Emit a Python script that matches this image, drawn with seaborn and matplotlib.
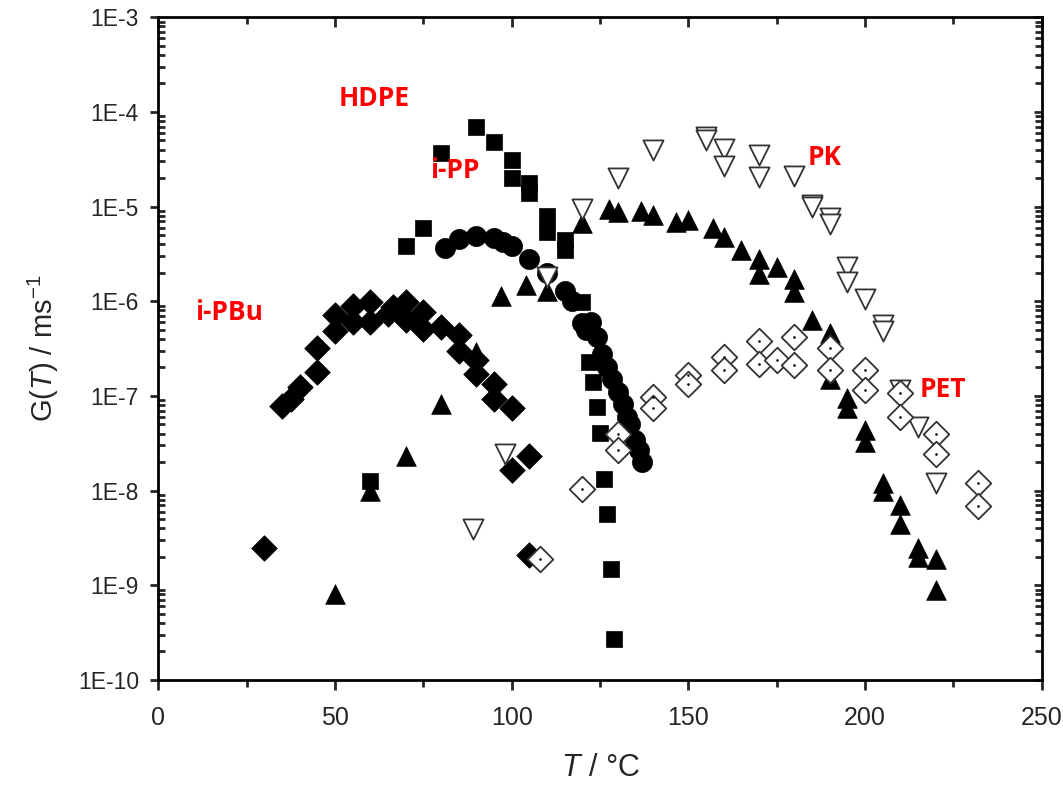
import seaborn as sns
import matplotlib.pyplot as plt
import matplotlib.ticker as mticker
import numpy as np
import pandas as pd

# HDPE (filled squares)
hdpe_T = [60, 70, 75, 80, 90, 95, 100, 100, 105, 105, 110, 110, 115, 115,
          120, 122, 123, 124, 125, 126, 127, 128, 129]
hdpe_G = [1.26e-8, 3.8e-6, 5.9e-6, 3.66e-5, 6.9e-5, 4.8e-5, 3.1e-5, 2.0e-5, 1.78e-5, 1.41e-5,
          7.9e-6, 5.4e-6, 4.4e-6, 3.5e-6, 9.8e-7, 2.3e-7, 1.4e-7, 7.6e-8, 4.1e-8, 1.32e-8,
          5.6e-9, 1.48e-9, 2.7e-10]

# i-PP (filled circles)
ipp_T = [81, 85, 90, 95, 97.5, 100, 105, 110, 115, 117, 120, 121, 122.5, 124,
         125.5, 127, 128.5, 130, 131.5, 132.5, 133.5, 135, 136, 137]
ipp_G = [3.7e-6, 4.6e-6, 4.9e-6, 4.7e-6, 4.2e-6, 3.8e-6, 2.8e-6, 2.0e-6, 1.3e-6, 1.0e-6,
         5.9e-7, 5.0e-7, 6.0e-7, 4.2e-7, 2.8e-7, 2.0e-7, 1.5e-7, 1.1e-7, 8.3e-8, 6.0e-8,
         5.0e-8, 3.4e-8, 2.7e-8, 2.0e-8]

# i-PBu (filled diamonds)
ipbu_T = [30, 35, 37.5, 40, 45, 45, 50, 50, 55, 55, 60, 60, 65, 66.5, 70, 70, 75, 75,
          80, 85, 85, 90, 90, 95, 95, 100, 100, 105, 105]
ipbu_G = [2.45e-9, 7.8e-8, 9.3e-8, 1.23e-7, 1.79e-7, 3.2e-7, 4.9e-7, 7.1e-7, 6.0e-7, 8.9e-7,
          6.0e-7, 9.8e-7, 7.4e-7, 8.7e-7, 9.9e-7, 6.3e-7, 7.8e-7, 5.1e-7,
          5.4e-7, 4.4e-7, 3.0e-7, 2.4e-7, 1.7e-7, 1.35e-7, 9.3e-8, 7.4e-8, 1.66e-8, 2.3e-8, 2.1e-9]

# unlabelled series (filled up triangles)
tri_T = [50, 60, 70, 80, 90, 97, 104, 110, 120, 127.5, 130, 136.5, 140, 146.5, 150, 157,
         160, 165, 170, 170, 175, 180, 180, 185, 190, 190, 195, 195, 200, 200, 205, 205,
         210, 210, 215, 215, 220, 220]
tri_G = [8.1e-10, 9.8e-9, 2.3e-8, 8.3e-8, 2.9e-7, 1.15e-6, 1.5e-6, 1.3e-6, 6.7e-6, 9.5e-6,
         8.8e-6, 9.1e-6, 8.1e-6, 6.9e-6, 7.2e-6, 5.9e-6, 4.8e-6, 3.5e-6, 2.8e-6, 1.96e-6,
         2.3e-6, 1.7e-6, 1.26e-6, 6.3e-7, 4.6e-7, 1.5e-7, 9.5e-8, 7.5e-8, 4.4e-8, 3.3e-8,
         1.2e-8, 1.0e-8, 7.1e-9, 4.4e-9, 2.5e-9, 2.0e-9, 1.9e-9, 8.9e-10]

# PK (open down triangles)
pk_T = [89, 98, 110, 120, 130, 140, 155, 155, 160, 160, 170, 170, 180, 185, 185, 190, 190,
        195, 195, 200, 205, 205, 210, 215, 220]
pk_G = [3.9e-9, 2.45e-8, 1.8e-6, 9.5e-6, 2.0e-5, 4.0e-5, 5.5e-5, 5.1e-5, 4.1e-5, 2.7e-5,
        3.5e-5, 2.05e-5, 2.1e-5, 1.05e-5, 9.8e-6, 7.5e-6, 6.5e-6, 2.3e-6, 1.6e-6, 1.07e-6,
        5.6e-7, 4.8e-7, 1.15e-7, 4.7e-8, 1.2e-8]

# PET (open diamonds)
pet_T = [108, 120, 130, 130, 140, 140, 150, 150, 160, 160, 170, 170, 175, 180, 180, 190, 190,
         200, 200, 210, 210, 220, 220, 232, 232]
pet_G = [1.9e-9, 1.05e-8, 4.0e-8, 2.7e-8, 9.8e-8, 7.4e-8, 1.66e-7, 1.35e-7, 2.6e-7, 1.9e-7,
         3.8e-7, 2.2e-7, 2.4e-7, 4.2e-7, 2.1e-7, 3.2e-7, 1.86e-7, 1.9e-7, 1.15e-7, 1.07e-7,
         6.0e-8, 4.0e-8, 2.45e-8, 1.2e-8, 6.8e-9]

labels = ['HDPE', 'i-PP', 'i-PBu', 'PK', 'PET']
label_T = [61, 84, 20, 188.5, 222]
label_G = [1.4e-4, 2.4e-5, 7.7e-7, 3.3e-5, 1.17e-7]

sns.set_style('ticks')
plt.rcParams['font.family'] = ['Liberation Sans', 'DejaVu Sans']
plt.rcParams['mathtext.fontset'] = 'custom'
plt.rcParams['mathtext.rm'] = 'Liberation Sans'
plt.rcParams['mathtext.it'] = 'Liberation Sans:italic'

fig = plt.figure(figsize=(10.63, 7.87), dpi=100)
ax = fig.add_axes([0.149, 0.136, 0.831, 0.842])

def draw(T, G, marker, size, face, edge, lw, z):
    df = pd.DataFrame({'T': T, 'G': G})
    sns.scatterplot(data=df, x='T', y='G', ax=ax, marker=marker, s=size,
                    color=face, edgecolor=edge, linewidth=lw, zorder=z, legend=False)

draw(hdpe_T, hdpe_G, 's', 120, 'black', 'black', 0.5, 3)
draw(ipp_T, ipp_G, 'o', 210, 'black', 'black', 0.5, 3)
draw(ipbu_T, ipbu_G, 'D', 170, 'black', 'black', 0.5, 3)
draw(tri_T, tri_G, '^', 200, 'black', 'black', 0.5, 3)
draw(pk_T, pk_G, 'v', 210, 'white', '#333333', 1.3, 4)
draw(pet_T, pet_G, 'D', 170, 'white', '#333333', 1.3, 4)
# tiny centre dot of the PET symbols
ax.scatter(pet_T, pet_G, marker='.', s=3, color='black', zorder=5)

for lab, t, g in zip(labels, label_T, label_G):
    ax.text(t, g, lab, color='red', fontsize=19, fontweight='bold',
            family=['Open Sans', 'DejaVu Sans'], ha='center', va='center')

ax.set_yscale('log')
ax.set_xlim(0, 250)
ax.set_ylim(1e-10, 1e-3)

ax.xaxis.set_major_locator(mticker.MultipleLocator(50))
ax.xaxis.set_minor_locator(mticker.MultipleLocator(25))
decades = list(range(-10, -2))
ax.yaxis.set_major_locator(mticker.FixedLocator([10.0 ** k for k in decades]))
ax.yaxis.set_major_formatter(mticker.FixedFormatter(['1E%d' % k for k in decades]))
ax.yaxis.set_minor_locator(mticker.LogLocator(base=10, subs=np.arange(2, 10), numticks=20))
ax.yaxis.set_minor_formatter(mticker.NullFormatter())

for s in ax.spines.values():
    s.set_linewidth(2)
    s.set_color('black')

ax.tick_params(axis='x', which='major', direction='out', length=7, width=2,
               labelsize=18, pad=12, top=True)
ax.tick_params(axis='x', which='minor', direction='out', length=5, width=2, top=True)
ax.tick_params(axis='y', which='major', direction='out', length=6, width=2,
               labelsize=16.5, pad=8, right=True)
ax.tick_params(axis='y', which='minor', direction='in', length=5, width=2, right=True)
# ticks on top/right point into the plot
for t in ax.xaxis.get_major_ticks() + ax.xaxis.get_minor_ticks():
    t.tick2line.set_marker(3)
for t in ax.yaxis.get_major_ticks():
    t.tick2line.set_marker(0)

ax.set_xlabel('$\\mathit{T}$ / °C', fontsize=22, labelpad=16)
ax.set_ylabel('G($\\mathit{T}$) / ms$^{-1}$', fontsize=21, labelpad=12)

plt.savefig('out.png', dpi=100)
